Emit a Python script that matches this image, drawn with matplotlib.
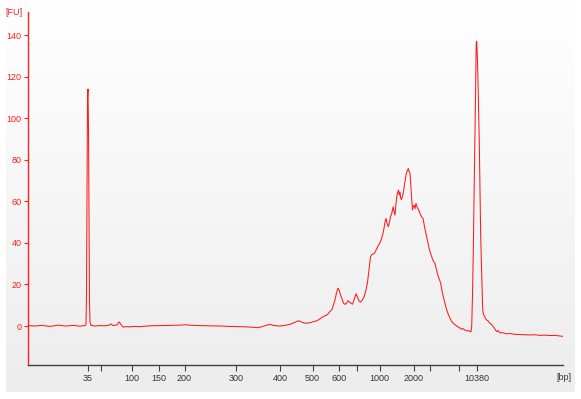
import numpy as np
import matplotlib
matplotlib.use("Agg")
import matplotlib.pyplot as plt
from matplotlib.colors import LinearSegmentedColormap

# Migration time (arbitrary units) and fluorescence [FU]
time = [0, 7, 14, 22, 30, 38, 46, 52, 57, 58, 58.5, 59, 59.5, 60, 60.5, 61, 61.5, 62, 63,
        67, 72, 77, 81, 83, 85, 89, 91, 93, 95, 98, 102, 107, 112, 122, 132, 142, 152, 157,
        162, 172, 182, 192, 202, 212, 222, 230, 234, 238, 242, 246, 252, 257, 262, 267, 270,
        272, 275, 278, 282, 286, 289, 292, 295, 299, 302, 304, 306, 307, 308.5, 310, 311,
        312.5, 314, 315.5, 317, 318.5, 320, 321.5, 323, 324.5, 326, 328, 329.5, 331, 332.5,
        334, 336, 338, 339.5, 340.5, 341.5, 342.5, 344, 346, 347, 348.5, 350, 352, 353.5, 355,
        356, 357, 358, 359, 360.3, 361.5, 362.5, 363.7, 364.5, 365.2, 366, 367, 367.8, 368.7,
        369.5, 370.5, 371.3, 372, 372.7, 373.5, 374.5, 375.5, 376.5, 378, 379, 380.3, 381,
        382, 382.8, 383.7, 384.5, 385.2, 386, 387, 388, 389.3, 390.5, 391.5, 392.5, 393.7,
        395, 396, 397, 398.3, 400, 401.5, 403.7, 405, 407, 408.5, 410.3, 411.5, 412.7, 414,
        415.3, 417, 418.7, 420, 421.5, 423.7, 425.5, 427, 428.7, 430, 432, 433.7, 435, 437,
        439, 440.5, 442.3, 443, 443.7, 444.5, 445.3, 446.3, 447.5, 448.2, 448.7, 449.3, 450,
        451.3, 452.7, 453.7, 454.7, 455.5, 456.5, 457.5, 458.7, 460, 461.5, 463.7, 465.3,
        467, 468.7, 470.3, 472, 475, 478.7, 482, 487, 492, 497, 502, 507, 512, 517, 522,
        527, 532, 535]
fu = [0.2, 0.0, 0.3, -0.2, 0.4, 0.0, 0.3, -0.1, 0.2, 0.5, 15, 60, 110, 114, 95, 50, 12, 2,
      0.3, 0.0, 0.2, 0.1, 0.4, 1.0, 0.2, 0.5, 2.0, 0.8, -0.5, -0.3, -0.4, -0.2, -0.3, 0.1,
      0.2, 0.3, 0.4, 0.6, 0.4, 0.2, 0.1, 0.0, -0.2, -0.3, -0.5, -0.8, -0.3, 0.3, 0.8, 0.2,
      0.0, 0.3, 0.8, 1.8, 2.5, 2.3, 1.6, 1.3, 1.6, 2.2, 2.5, 3.5, 4.5, 5.3, 7.0, 8.0, 11,
      12.5, 16, 18.2, 17.5, 15, 13, 11, 10.4, 11.0, 12.2, 11.5, 11.0, 10.5, 12.5, 15.5, 14,
      12, 11.5, 12.3, 14, 17.3, 21, 25, 29, 33.3, 34.5, 34.8, 35.5, 37, 38.5, 40, 42, 44.6,
      47, 50, 51.8, 49.5, 47.8, 50, 52.6, 54, 56, 57.4, 55, 53.4, 58, 62, 64, 65.4, 63,
      64.5, 61.4, 60.8, 62.5, 64.6, 68, 72.6, 74.5, 75.8, 74.7, 73.4, 68, 61, 55.8, 57.5,
      58.2, 56.5, 59, 57, 56, 55, 53.5, 52.5, 51.8, 49, 46.5, 43.8, 40, 36.5, 33.3, 31.5,
      30.1, 27, 23.7, 22.3, 20.5, 17, 14.1, 11, 7.7, 6, 4.3, 2.1, 1.2, 0.6, 0.0, -0.3, -1.0,
      -1.6, -1.2, -2.0, -2.3, -2.2, -2.7, -2.8, -0.3, 15, 36.5, 68.6, 110, 136, 137, 130,
      118, 87.8, 43, 25, 7.7, 5.5, 4.8, 3.5, 2.9, 2.5, 1.5, 0.6, -0.3, -1.5, -2.7, -2.2,
      -3.3, -3.2, -3.8, -3.6, -4.0, -4.1, -4.2, -4.3, -4.2, -4.5, -4.4, -4.6, -4.5, -4.8,
      -5.0]

# Ladder (bp) tick positions on the time axis and their labels
tick_times = [59.5, 72.5, 103.5, 130.5, 156.5, 208, 252, 284.5, 311, 328.5, 351.5,
              385.5, 401.5, 430.5, 448.5]
tick_labels = ["35", "", "100", "150", "200", "300", "400", "500", "600", "", "1000",
               "2000", "", "", "10380"]
fu_ticks = [0, 20, 40, 60, 80, 100, 120, 140]

W, H = 581, 399
fig = plt.figure(figsize=(W / 100, H / 100), dpi=100, facecolor="white")

# gradient panel
bg = fig.add_axes([6 / W, (H - 392) / H, 569 / W, 392 / H], zorder=0)
grad = np.linspace(0, 1, 256)[:, None]
cmap = LinearSegmentedColormap.from_list("g", ["#ffffff", "#ededed"])
bg.imshow(grad, aspect="auto", cmap=cmap, extent=[0, 1, 0, 1], origin="upper")
bg.set_axis_off()

ax = fig.add_axes([28 / W, (H - 365) / H, (563 - 28) / W, (365 - 12) / H], zorder=1)
ax.patch.set_alpha(0)
ax.plot(time, fu, color="#ff1a1a", lw=0.75)
ax.set_xlim(0, 535)
ax.set_ylim(-18.76, 151.1)

for s in ["top", "right"]:
    ax.spines[s].set_visible(False)
ax.spines["left"].set_color("#ff2020")
ax.spines["left"].set_linewidth(1.0)
ax.spines["bottom"].set_color("#404040")
ax.spines["bottom"].set_linewidth(1.0)

fontname = "Liberation Sans"
ax.set_yticks(fu_ticks)
ax.set_yticklabels([str(v) for v in fu_ticks], fontsize=6.5, color="#ff2020", family=fontname)
ax.tick_params(axis="y", colors="#ff2020", length=3, width=0.8, pad=1.5)
ax.set_xticks(tick_times)
ax.set_xticklabels(tick_labels, fontsize=6.5, color="#333333", family=fontname)
ax.tick_params(axis="x", colors="#404040", length=4, width=0.8, pad=2.5, labelcolor="#333333")

fig.text(14 / W, 1 - 12.5 / H, "[FU]", fontsize=6.5, color="#ff2020", family=fontname,
         ha="center", va="center")
fig.text(564 / W, 1 - 377 / H, "[bp]", fontsize=6.5, color="#333333", family=fontname,
         ha="center", va="center")

fig.savefig("out.png", dpi=100, facecolor=fig.get_facecolor())
